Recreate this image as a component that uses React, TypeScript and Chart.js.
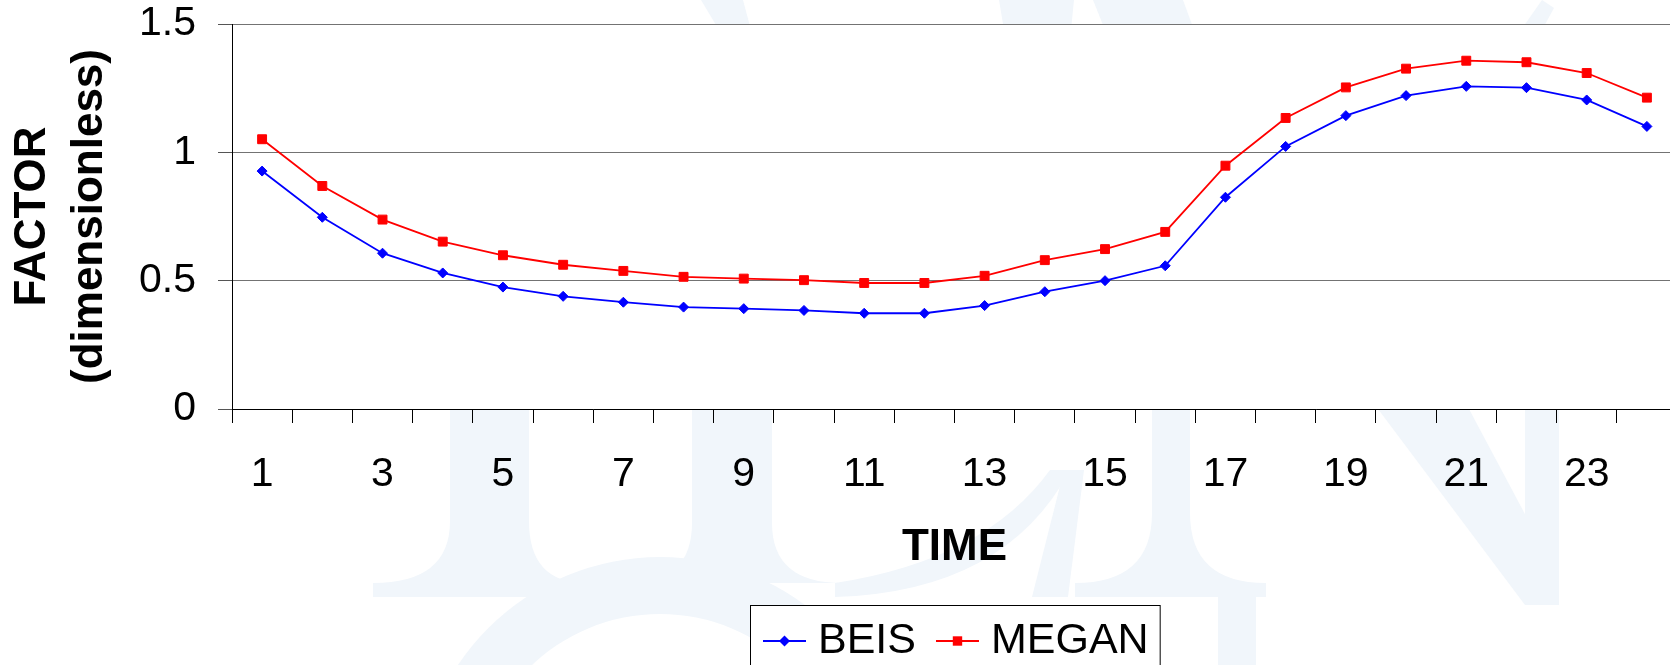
import React, { useEffect, useRef } from 'react';
import { Chart, registerables } from 'chart.js';

Chart.register(...registerables);

// Hour of day (1..24)
const hours = [
  '1', '2', '3', '4', '5', '6', '7', '8', '9', '10', '11', '12',
  '13', '14', '15', '16', '17', '18', '19', '20', '21', '22', '23', '24',
];

// Diurnal emission factor, BEIS
const beis = [
  0.927, 0.747, 0.607, 0.530, 0.475, 0.439, 0.416, 0.397, 0.391, 0.384, 0.373, 0.373,
  0.403, 0.457, 0.500, 0.558, 0.825, 1.023, 1.143, 1.221, 1.257, 1.252, 1.204, 1.101,
];

// Diurnal emission factor, MEGAN
const megan = [
  1.051, 0.869, 0.738, 0.652, 0.599, 0.562, 0.538, 0.515, 0.508, 0.502, 0.491, 0.491,
  0.519, 0.580, 0.623, 0.690, 0.948, 1.134, 1.253, 1.326, 1.357, 1.351, 1.309, 1.213,
];

const yMin = 0;
const yMax = 1.5;
const yStep = 0.5;

const FONT = "'Liberation Sans', Arial, Helvetica, sans-serif";
const WATERMARK = '#f1f6fb';

// Pale logo behind the chart, then a white plot area over it
const pageBackground = {
  id: 'pageBackground',
  beforeDraw(chart: any) {
    const { ctx, chartArea } = chart;
    ctx.save();
    ctx.fillStyle = '#ffffff';
    ctx.fillRect(0, 0, chart.width, chart.height);
    ctx.fillStyle = WATERMARK;

    // serif stem with flared foot
    const stem = (xl: number, xr: number, foot: number, fl: number, fr: number, fh: number) => {
      ctx.beginPath();
      ctx.moveTo(xl, 60);
      ctx.lineTo(xl, foot - fh);
      ctx.quadraticCurveTo(xl, foot, xl - fl, foot);
      ctx.lineTo(xr + fr, foot);
      ctx.quadraticCurveTo(xr, foot, xr, foot - fh);
      ctx.lineTo(xr, 60);
      ctx.closePath();
      ctx.fill();
    };
    const poly = (pts: number[][]) => {
      ctx.beginPath();
      pts.forEach((p, i) => (i ? ctx.lineTo(p[0], p[1]) : ctx.moveTo(p[0], p[1])));
      ctx.closePath();
      ctx.fill();
    };

    stem(450, 529, 583, 77, 57, 62);
    stem(692, 772, 583, 64, 70, 60);
    stem(1152, 1190, 583, 77, 76, 70);
    ctx.fillRect(373, 583, 205, 14);
    ctx.fillRect(1075, 583, 191, 14);

    // ring segment under the letters
    ctx.beginPath();
    ctx.arc(660, 800, 243, Math.PI, 2 * Math.PI);
    ctx.arc(660, 800, 186, 2 * Math.PI, Math.PI, true);
    ctx.closePath();
    ctx.fill();
    ctx.fillRect(1218, 597, 38, 80);

    // slanted strokes
    poly([[1064, 470], [1084, 470], [1068, 597], [1032, 597]]);
    ctx.beginPath();
    ctx.moveTo(835, 583);
    ctx.quadraticCurveTo(985, 560, 1050, 470);
    ctx.lineTo(1070, 470);
    ctx.quadraticCurveTo(1005, 592, 835, 597);
    ctx.closePath();
    ctx.fill();
    poly([[1378, 409], [1469, 409], [1559, 578], [1559, 605], [1525, 605]]);
    ctx.fillRect(1525, 409, 34, 196);

    // tops of letters above the plot
    poly([[701, 0], [743, 0], [751, 30], [719, 30]]);
    poly([[999, 0], [1074, 0], [1071, 30], [1004, 30]]);
    poly([[1093, 0], [1183, 0], [1194, 30], [1105, 30]]);
    poly([[1542, 0], [1554, 8], [1542, 30], [1521, 30]]);

    ctx.fillStyle = '#ffffff';
    ctx.fillRect(chartArea.left, chartArea.top, chartArea.right - chartArea.left, chartArea.bottom - chartArea.top);
    ctx.restore();
  },
};

// Framed legend with a line + marker sample for each series
const boxedLegend = {
  id: 'boxedLegend',
  afterDraw(chart: any) {
    const { ctx, chartArea } = chart;
    const datasets = chart.data.datasets;
    const lineLen = 43;
    const gap = 12;
    const itemGap = 20;
    const padL = 13;
    const padR = 11;
    const top = chartArea.bottom + 196;
    const midY = top + 36;
    const baseY = top + 48;

    ctx.save();
    ctx.font = `43px ${FONT}`;
    const widths = datasets.map((d: any) => ctx.measureText(d.label).width);
    let total = padL + padR + itemGap * (datasets.length - 1);
    widths.forEach((w: number) => { total += lineLen + gap + w; });
    const center = (chartArea.left + chartArea.right) / 2;
    const left = Math.round(center - total / 2);

    ctx.fillStyle = '#ffffff';
    ctx.fillRect(left, top, total, 200);
    ctx.strokeStyle = '#000000';
    ctx.lineWidth = 1;
    ctx.strokeRect(left + 0.5, top + 0.5, total, 200);

    let x = left + padL;
    datasets.forEach((d: any, i: number) => {
      ctx.strokeStyle = d.borderColor;
      ctx.lineWidth = 2;
      ctx.beginPath();
      ctx.moveTo(x, midY);
      ctx.lineTo(x + lineLen, midY);
      ctx.stroke();
      const cx = x + lineLen / 2;
      ctx.fillStyle = d.pointBackgroundColor;
      ctx.beginPath();
      if (d.pointStyle === 'rectRot') {
        const r = 5.5;
        ctx.moveTo(cx, midY - r);
        ctx.lineTo(cx + r, midY);
        ctx.lineTo(cx, midY + r);
        ctx.lineTo(cx - r, midY);
        ctx.closePath();
      } else {
        const s = 4.7;
        ctx.rect(cx - s, midY - s, 2 * s, 2 * s);
      }
      ctx.fill();
      ctx.fillStyle = '#000000';
      ctx.textBaseline = 'alphabetic';
      ctx.textAlign = 'left';
      ctx.fillText(d.label, x + lineLen + gap, baseY);
      x += lineLen + gap + widths[i] + itemGap;
    });
    ctx.restore();
  },
};

export default function App() {
  const canvasRef = useRef<HTMLCanvasElement | null>(null);

  useEffect(() => {
    const canvas = canvasRef.current;
    if (!canvas) return;
    const chart = new Chart(canvas, {
      type: 'line',
      data: {
        labels: hours,
        datasets: [
          {
            label: 'BEIS',
            data: beis,
            borderColor: '#0000ff',
            backgroundColor: '#0000ff',
            pointBackgroundColor: '#0000ff',
            pointBorderColor: '#0000ff',
            pointStyle: 'rectRot',
            pointRadius: 5,
            pointBorderWidth: 1,
            borderWidth: 1.8,
            tension: 0,
            fill: false,
          },
          {
            label: 'MEGAN',
            data: megan,
            borderColor: '#ff0000',
            backgroundColor: '#ff0000',
            pointBackgroundColor: '#ff0000',
            pointBorderColor: '#ff0000',
            pointStyle: 'rect',
            pointRadius: 6.3,
            pointBorderWidth: 1,
            borderWidth: 1.8,
            tension: 0,
            fill: false,
          },
        ],
      },
      options: {
        responsive: false,
        animation: false,
        devicePixelRatio: 1,
        layout: { padding: { left: 0, top: 0, right: 23, bottom: 0 } },
        plugins: {
          legend: { display: false },
          tooltip: { enabled: false },
        },
        scales: {
          x: {
            type: 'category',
            offset: true,
            grid: {
              offset: true,
              drawOnChartArea: false,
              drawTicks: true,
              tickLength: 14,
              color: '#000000',
            },
            border: { display: true, color: '#000000', width: 1 },
            ticks: {
              autoSkip: false,
              maxRotation: 0,
              minRotation: 0,
              padding: 27,
              color: '#000000',
              font: { family: FONT, size: 41 },
              callback: (_v: any, i: number) => (i % 2 === 0 ? hours[i] : ''),
            },
            title: {
              display: true,
              text: 'TIME',
              color: '#000000',
              font: { family: FONT, size: 44, weight: 'bold' },
              padding: { top: 0, bottom: 146 },
            },
            afterFit: (scale: any) => { scale.height = 311; },
          },
          y: {
            min: yMin,
            max: yMax,
            grid: {
              color: '#737373',
              tickColor: '#555555',
              tickLength: 14,
              lineWidth: 1,
            },
            border: { display: true, color: '#000000', width: 1 },
            ticks: {
              stepSize: yStep,
              padding: 22,
              color: '#000000',
              font: { family: FONT, size: 41 },
              callback: (v: any) => String(Number(v)),
            },
            title: {
              display: true,
              text: ['FACTOR', '(dimensionless)'],
              color: '#000000',
              font: { family: FONT, size: 44, weight: 'bold', lineHeight: 1.3 },
              padding: { top: 4, bottom: 0 },
            },
            afterFit: (scale: any) => {
              scale.width = 232;
              scale.paddingTop = 24;
              scale.paddingBottom = 25;
            },
          },
        },
      },
      plugins: [pageBackground, boxedLegend],
    });
    return () => chart.destroy();
  }, []);

  return (
    <div
      style={{
        position: 'fixed',
        left: 0,
        top: 0,
        width: 1670,
        height: 665,
        overflow: 'hidden',
        background: '#ffffff',
      }}
    >
      <canvas ref={canvasRef} width={1700} height={720} style={{ display: 'block' }} />
    </div>
  );
}
